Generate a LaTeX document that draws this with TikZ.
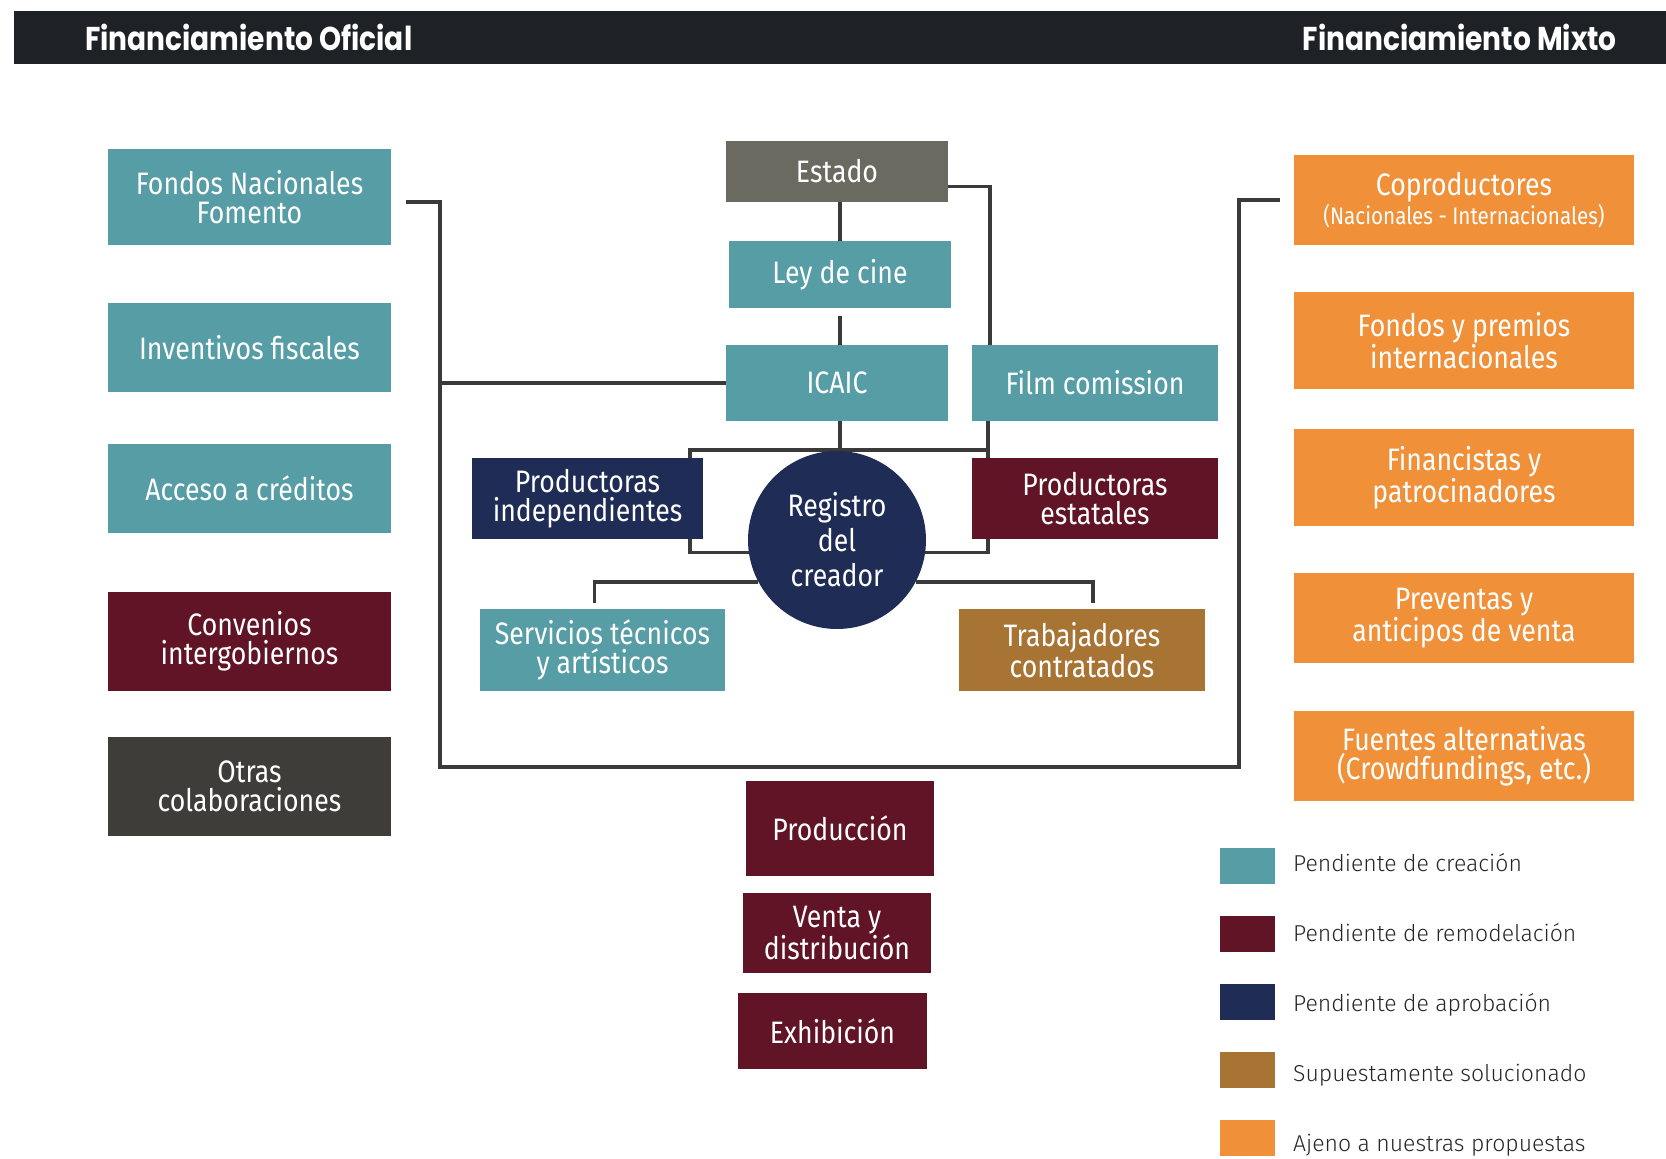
\documentclass[tikz,border=0pt]{standalone}
\usepackage{fontspec}
\setmainfont{Fira Sans}
\newfontfamily\boxfont[FakeStretch=0.86]{Fira Sans}
\newfontfamily\keyfont{Fira Sans Light}
\newfontfamily\headfont[FakeStretch=0.85]{Poppins}
\usetikzlibrary{backgrounds}

\definecolor{cteal}{RGB}{87,157,166}
\definecolor{cmaroon}{RGB}{96,20,38}
\definecolor{cnavy}{RGB}{31,45,86}
\definecolor{cochre}{RGB}{168,116,52}
\definecolor{corange}{RGB}{240,145,58}
\definecolor{cstate}{RGB}{107,106,96}
\definecolor{cother}{RGB}{62,61,58}
\definecolor{cbar}{RGB}{30,33,37}
\definecolor{cline}{RGB}{58,58,58}

\begin{document}
\begin{tikzpicture}[x=1pt,y=-1pt]
\tikzset{
    box/.style={rectangle, inner sep=0pt, text=white, align=center,
        font=\boxfont\fontsize{31}{29}\selectfont},
    link/.style={draw=cline, line width=3.5pt},
    heading/.style={text=white, inner sep=0pt,
        font=\headfont\bfseries\fontsize{33}{36}\selectfont},
    keytext/.style={anchor=base west, inner sep=0pt, text=black!85,
        font=\keyfont\fontsize{23}{26}\selectfont},
}
\useasboundingbox (0,0) rectangle (1666,1159);

% Header bar
\fill[cbar] (14,11) rectangle (1666,64);
\node[heading, anchor=base west] (oficial) at (85,50) {Financiamiento Oficial};
\node[heading, anchor=base east] (mixto) at (1617,50) {Financiamiento Mixto};

% Official funding column
\foreach \name/\y/\h/\col/\txt in {
    fondos/197/96/cteal/{Fondos Nacionales\\Fomento},
    incentivos/347.5/89/cteal/{Inventivos fiscales},
    acceso/488.5/89/cteal/{Acceso a créditos},
    convenios/641.5/99/cmaroon/{Convenios\\intergobiernos},
    otras/786.5/99/cother/{Otras\\colaboraciones}}{
    \node[box, fill=\col, minimum width=283pt, minimum height=\h pt] (\name) at (249.5,\y) {\txt};
}

% Mixed funding column
\foreach \name/\y/\h/\txt in {
    copro/200/90/{Coproductores\\{\fontsize{24}{26}\selectfont(Nacionales - Internacionales)}},
    premios/340.5/97/{Fondos y premios\\internacionales},
    financistas/477.5/97/{Financistas y\\patrocinadores},
    preventas/618/90/{Preventas y\\anticipos de venta},
    fuentes/756/90/{Fuentes alternativas\\(Crowdfundings, etc.)}}{
    \node[box, fill=corange, minimum width=340pt, minimum height=\h pt] (\name) at (1464,\y) {\txt};
}

% Institutions
\node[box, fill=cstate, minimum width=222pt, minimum height=61pt] (estado) at (837,171.5) {Estado};
\node[box, fill=cteal, minimum width=222pt, minimum height=67pt] (ley) at (840,274.5) {Ley de cine};
\node[box, fill=cteal, minimum width=222pt, minimum height=76pt] (icaic) at (837,383) {ICAIC};
\node[box, fill=cteal, minimum width=246pt, minimum height=76pt] (film) at (1095,383) {Film comission};

% Around the registry
\node[box, fill=cnavy, minimum width=231pt, minimum height=81pt] (indep) at (587.5,498.5) {Productoras\\independientes};
\node[box, fill=cmaroon, minimum width=246pt, minimum height=81pt] (estatales) at (1095,498.5) {Productoras\\estatales};
\node[circle, fill=cnavy, minimum size=178pt, inner sep=0pt, text=white, align=center,
    font=\boxfont\fontsize{31}{35}\selectfont] (registro) at (837,540) {Registro\\del\\creador};
\node[box, fill=cteal, minimum width=245pt, minimum height=82pt] (servicios) at (602.5,650) {Servicios técnicos\\y artísticos};
\node[box, fill=cochre, minimum width=246pt, minimum height=82pt] (trabajadores) at (1082,650) {Trabajadores\\contratados};

% Chain stages
\node[box, fill=cmaroon, minimum width=188pt, minimum height=95pt] (produccion) at (840,828.5) {Producción};
\node[box, fill=cmaroon, minimum width=188pt, minimum height=80pt] (venta) at (837,933) {Venta y\\distribución};
\node[box, fill=cmaroon, minimum width=189pt, minimum height=76pt] (exhibicion) at (832.5,1031) {Exhibición};

% Legend
\foreach \i/\col/\txt in {
    0/cteal/Pendiente de creación,
    1/cmaroon/Pendiente de remodelación,
    2/cnavy/Pendiente de aprobación,
    3/cochre/Supuestamente solucionado,
    4/corange/Ajeno a nuestras propuestas}{
    \node[fill=\col, minimum width=55pt, minimum height=36pt, inner sep=0pt] (key\i) at (1247.5,{865.5+68*\i}) {};
    \node[keytext] (keytext\i) at (1293,{871+70*\i}) {\txt};
}

% Connectors go under the boxes
\begin{scope}[on background layer]
\coordinate (bl) at (440,767);
\coordinate (br) at (1239,767);
\draw[link] ([xshift=15pt,yshift=-5pt]fondos.east) -| (bl) -- (br) |- ([xshift=-14pt]copro.west);
\draw[link] (icaic.west) -- (icaic.west -| bl);

\draw[link] (estado.south -| ley.north) -- (ley.north);
\draw[link] ([yshift=-8pt]ley.south) -- (icaic.north -| ley.south);
\draw[link] ([yshift=-15pt]estado.east) -| ([xshift=-105pt]film.north);

% registry hub
\coordinate (tl) at (690,450);
\coordinate (tr) at (988,450);
\draw[link] (icaic.south -| ley.south) -- (tl -| ley.south);
\draw[link] (film.south -| tr) |- (registro.-8);
\draw[link] (tr) -- (tl) |- (registro.188);
\draw[link] (registro.208) -| ([xshift=-8pt,yshift=6pt]servicios.north);
\draw[link] (registro.332) -| ([xshift=11pt,yshift=6pt]trabajadores.north);
\end{scope}
\end{tikzpicture}
\end{document}
